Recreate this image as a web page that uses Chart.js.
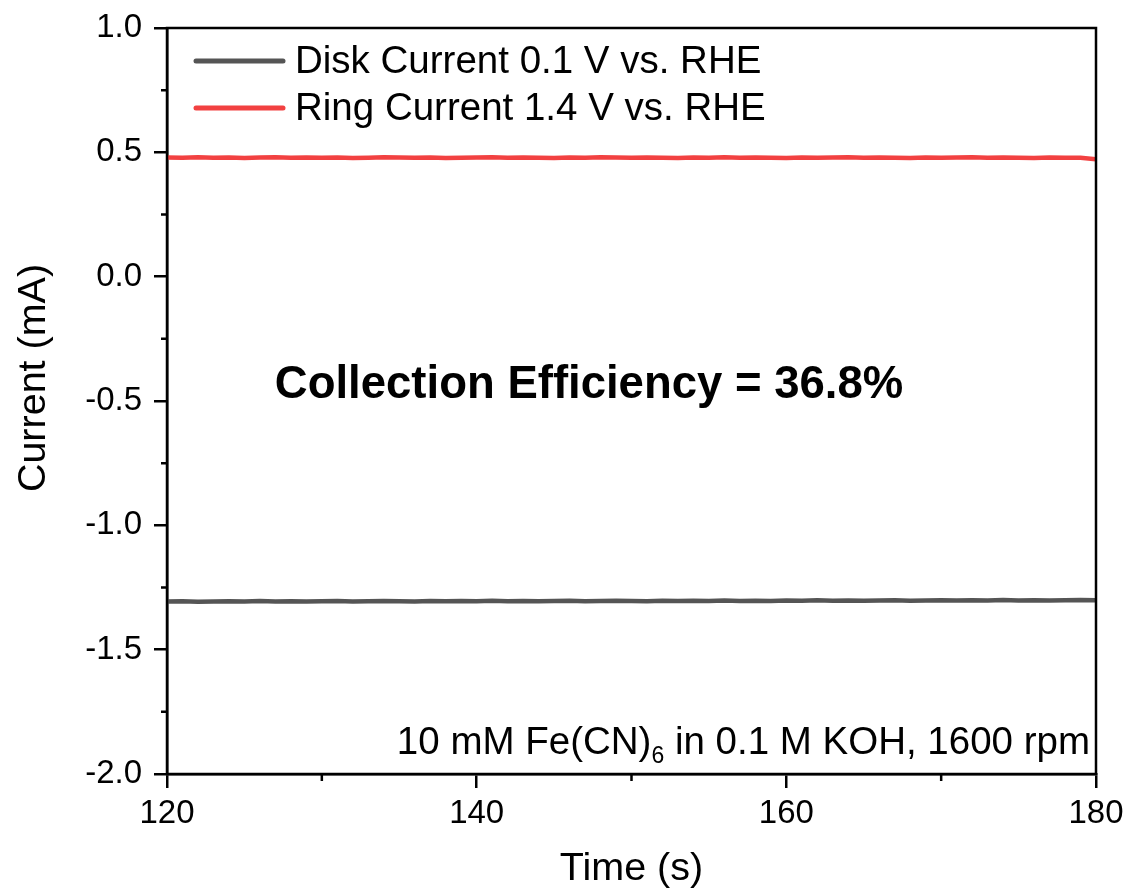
<!DOCTYPE html>
<html>
<head>
<meta charset="utf-8">
<script src="https://cdn.jsdelivr.net/npm/chart.js@4/dist/chart.umd.min.js"></script>
<style>
  html, body { margin: 0; padding: 0; background: #ffffff; }
  #wrap { width: 1126px; height: 893px; position: relative; }
</style>
</head>
<body>
<div id="wrap"><canvas id="c" width="1126" height="893"></canvas></div>
<script>
// ---- Data ----
const timeSeconds = [120,121,122,123,124,125,126,127,128,129,130,131,132,133,134,135,136,137,138,139,140,141,142,143,144,145,146,147,148,149,150,151,152,153,154,155,156,157,158,159,160,161,162,163,164,165,166,167,168,169,170,171,172,173,174,175,176,177,178,179,180];
const diskCurrent = [-1.306,-1.305,-1.307,-1.306,-1.305,-1.306,-1.304,-1.306,-1.305,-1.306,-1.305,-1.304,-1.306,-1.305,-1.304,-1.305,-1.306,-1.304,-1.305,-1.304,-1.305,-1.303,-1.305,-1.304,-1.305,-1.304,-1.303,-1.305,-1.304,-1.303,-1.304,-1.305,-1.303,-1.304,-1.303,-1.304,-1.302,-1.304,-1.303,-1.304,-1.302,-1.303,-1.301,-1.303,-1.302,-1.303,-1.302,-1.301,-1.303,-1.302,-1.301,-1.302,-1.301,-1.302,-1.300,-1.302,-1.301,-1.302,-1.301,-1.300,-1.301];
const ringCurrent = [0.479,0.478,0.480,0.478,0.479,0.477,0.479,0.480,0.478,0.479,0.478,0.479,0.477,0.478,0.480,0.479,0.478,0.479,0.477,0.478,0.479,0.480,0.478,0.479,0.478,0.477,0.479,0.478,0.480,0.479,0.478,0.479,0.478,0.477,0.479,0.478,0.480,0.478,0.479,0.478,0.477,0.479,0.478,0.479,0.480,0.478,0.479,0.478,0.477,0.479,0.478,0.479,0.480,0.478,0.479,0.478,0.477,0.479,0.478,0.478,0.472];
const seriesNames = ['Disk Current 0.1 V vs. RHE', 'Ring Current 1.4 V vs. RHE'];
const seriesColors = ['#555555', '#f24141'];
const xTickValues = [120, 140, 160, 180];
const xMinorTicks = [130, 150, 170];
const yMinorTicks = [0.75, 0.25, -0.25, -0.75, -1.25, -1.75];
const xTitle = 'Time (s)';
const yTitle = 'Current (mA)';
const annotationText = 'Collection Efficiency = 36.8%';
const noteMain = '10 mM Fe(CN)';
const noteSub = '6';
const noteRest = ' in 0.1 M KOH, 1600 rpm';

const FONT = '"Liberation Sans", Arial, Helvetica, sans-serif';

const toPts = (xs, ys) => xs.map((x, i) => ({x: x, y: ys[i]}));

const framePlugin = {
  id: 'frameAndText',
  afterDraw(chart) {
    const ctx = chart.ctx;
    const a = chart.chartArea;
    const xs = chart.scales.x, ys = chart.scales.y;
    ctx.save();
    // frame
    ctx.strokeStyle = '#000';
    ctx.lineWidth = 2.5;
    ctx.strokeRect(a.left, a.top, a.right - a.left, a.bottom - a.top);
    // minor ticks
    ctx.beginPath();
    xMinorTicks.forEach(v => {
      const px = xs.getPixelForValue(v);
      ctx.moveTo(px, a.bottom); ctx.lineTo(px, a.bottom + 7);
    });
    yMinorTicks.forEach(v => {
      const py = ys.getPixelForValue(v);
      ctx.moveTo(a.left, py); ctx.lineTo(a.left - 6, py);
    });
    ctx.stroke();

    // y-axis title
    ctx.save();
    ctx.fillStyle = '#000';
    ctx.font = '39.5px ' + FONT;
    ctx.textAlign = 'center';
    ctx.textBaseline = 'middle';
    ctx.translate(34, 378);
    ctx.rotate(-Math.PI / 2);
    ctx.fillText(yTitle, 0, 0);
    ctx.restore();

    // legend
    ctx.lineCap = 'round';
    ctx.lineWidth = 5;
    const legY = [61, 108];
    const legBase = [73, 120];
    ctx.font = '38.5px ' + FONT;
    ctx.textAlign = 'left';
    ctx.textBaseline = 'alphabetic';
    for (let i = 0; i < 2; i++) {
      ctx.strokeStyle = seriesColors[i];
      ctx.beginPath();
      ctx.moveTo(196, legY[i]); ctx.lineTo(283, legY[i]);
      ctx.stroke();
      ctx.fillStyle = '#000';
      ctx.fillText(seriesNames[i], 295, legBase[i]);
    }

    // annotation
    ctx.font = 'bold 45.5px ' + FONT;
    ctx.textAlign = 'center';
    ctx.fillText(annotationText, 589, 398);

    // bottom-right note with subscript
    ctx.textAlign = 'left';
    ctx.font = '38.5px ' + FONT;
    const w1 = ctx.measureText(noteMain).width;
    const w3 = ctx.measureText(noteRest).width;
    ctx.font = '23px ' + FONT;
    const w2 = ctx.measureText(noteSub).width;
    const right = 1090;
    let x0 = right - (w1 + w2 + w3);
    ctx.font = '38.5px ' + FONT;
    ctx.fillText(noteMain, x0, 754);
    ctx.font = '23px ' + FONT;
    ctx.fillText(noteSub, x0 + w1, 763);
    ctx.font = '38.5px ' + FONT;
    ctx.fillText(noteRest, x0 + w1 + w2, 754);
    ctx.restore();
  }
};

new Chart(document.getElementById('c'), {
  type: 'line',
  data: {
    datasets: [
      { label: seriesNames[0], data: toPts(timeSeconds, diskCurrent), borderColor: seriesColors[0], borderWidth: 4.5, pointRadius: 0, tension: 0 },
      { label: seriesNames[1], data: toPts(timeSeconds, ringCurrent), borderColor: seriesColors[1], borderWidth: 4.5, pointRadius: 0, tension: 0 }
    ]
  },
  options: {
    responsive: false,
    animation: false,
    devicePixelRatio: 1,
    layout: { padding: { left: 0, right: 30, top: 28, bottom: 0 } },
    plugins: { legend: { display: false }, tooltip: { enabled: false } },
    scales: {
      x: {
        type: 'linear', min: 120, max: 180,
        afterBuildTicks: s => { s.ticks = xTickValues.map(v => ({value: v})); },
        afterFit: s => { s.height = 119; s.paddingLeft = 0; s.paddingRight = 0; },
        ticks: { color: '#000', font: { family: FONT, size: 33 }, padding: 6, maxRotation: 0 },
        grid: { display: true, drawOnChartArea: false, drawTicks: true, tickLength: 14, color: '#000', lineWidth: 2.5 },
        border: { display: true, color: '#000', width: 2.5 },
        title: { display: true, text: xTitle, color: '#000', font: { family: FONT, size: 39.5 }, padding: { top: 0, bottom: 0 } }
      },
      y: {
        type: 'linear', min: -2, max: 1,
        ticks: { stepSize: 0.5, color: '#000', font: { family: FONT, size: 33 }, padding: 12, callback: v => v.toFixed(1) },
        afterFit: s => { s.width = 167; s.paddingTop = 0; s.paddingBottom = 0; },
        grid: { display: true, drawOnChartArea: false, drawTicks: true, tickLength: 13, color: '#000', lineWidth: 2.5 },
        border: { display: true, color: '#000', width: 2.5 },
        title: { display: false }
      }
    }
  },
  plugins: [framePlugin]
});
</script>
</body>
</html>
